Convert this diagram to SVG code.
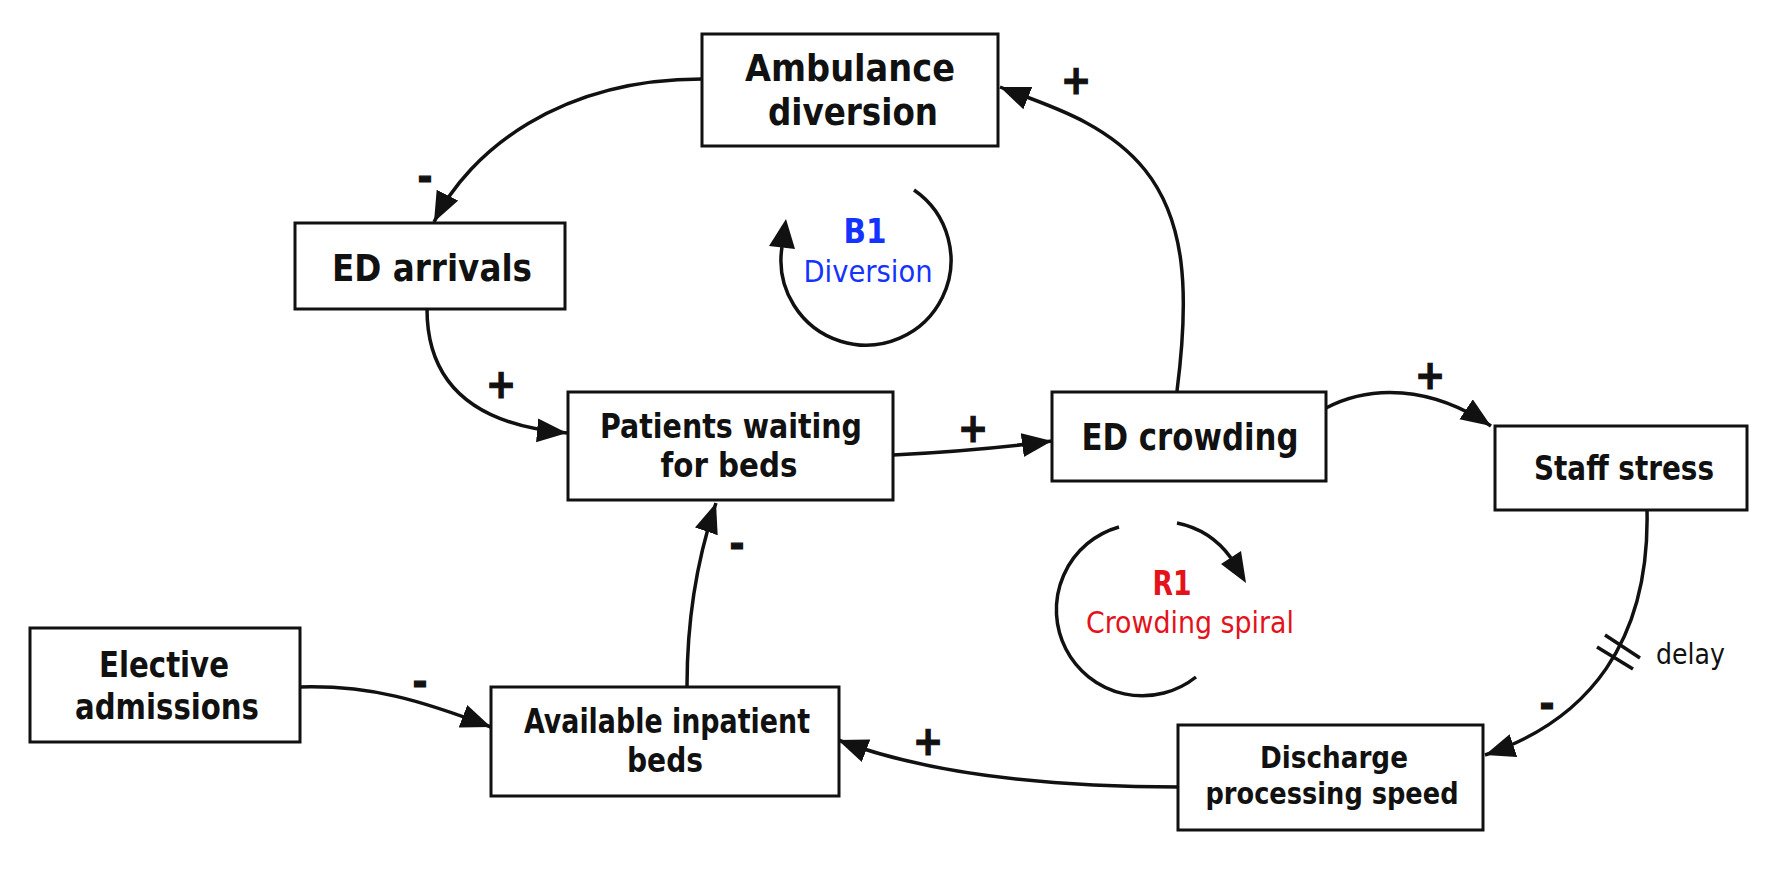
<svg xmlns="http://www.w3.org/2000/svg" width="1774" height="887" viewBox="0 0 1774 887">
<style>
  .box { fill: #ffffff; stroke: #111111; stroke-width: 3; }
  .lbl { font-family: 'DejaVu Sans Condensed', 'DejaVu Sans', sans-serif; font-stretch: condensed; font-weight: bold; fill: #111111; text-anchor: middle; }
  .edge { fill: none; stroke: #111111; stroke-width: 3.5; }
  .loop { fill: none; stroke: #111111; stroke-width: 3.5; }
  .head { fill: #111111; }
  .sign { font-family: 'DejaVu Sans Condensed', 'DejaVu Sans', sans-serif; font-stretch: condensed; font-weight: bold; font-size: 40px; fill: #111111; stroke: #111111; stroke-width: 1.2; text-anchor: middle; dominant-baseline: central; }
  .b1 { font-family: 'DejaVu Sans Condensed', 'DejaVu Sans', sans-serif; font-stretch: condensed; fill: #1533ff; text-anchor: middle; }
  .r1 { font-family: 'DejaVu Sans Condensed', 'DejaVu Sans', sans-serif; font-stretch: condensed; fill: #e3121b; text-anchor: middle; }
  .note { font-family: 'DejaVu Sans Condensed', 'DejaVu Sans', sans-serif; font-stretch: condensed; font-size: 28px; fill: #111111; }
</style>
<defs>
  <marker id="arr" markerUnits="userSpaceOnUse" markerWidth="32" markerHeight="26" refX="30" refY="12" orient="auto">
    <path d="M0,0 L30,12 L0,24 z" fill="#111111"/>
  </marker>
</defs>
<rect width="1774" height="887" fill="#ffffff"/>

<g id="connectors">
  <path class="edge" d="M702,79 C560,79 470,150 434,222" marker-end="url(#arr)"/>
  <path class="edge" d="M1177,391 C1190,290 1185,220 1145,170 S1040,103 1000,87" marker-end="url(#arr)"/>
  <path class="edge" d="M427,309 C427,385 475,425 567,433" marker-end="url(#arr)"/>
  <path class="edge" d="M893,455 C950,452 1000,448 1052,441" marker-end="url(#arr)"/>
  <path class="edge" d="M1326,408 C1370,385 1430,385 1491,426" marker-end="url(#arr)"/>
  <path class="edge" d="M1647,510 C1650,640 1590,720 1485,755" marker-end="url(#arr)"/>
  <path class="edge" d="M1179,787 C1050,787 930,775 838,740" marker-end="url(#arr)"/>
  <path class="edge" d="M300,687 C370,685 420,700 491,727" marker-end="url(#arr)"/>
  <path class="edge" d="M687,686 C687,610 700,550 716,503" marker-end="url(#arr)"/>
  <line class="edge" x1="1605" y1="635" x2="1640" y2="658"/>
  <line class="edge" x1="1597" y1="647" x2="1633" y2="669"/>
  <text class="note" x="1656" y="664">delay</text>
  <text class="sign" x="425" y="177">-</text>
  <text class="sign" x="501" y="384">+</text>
  <text class="sign" x="973" y="428">+</text>
  <text class="sign" x="1076" y="80">+</text>
  <text class="sign" x="1430" y="375">+</text>
  <text class="sign" x="737" y="544">-</text>
  <text class="sign" x="420" y="682">-</text>
  <text class="sign" x="928" y="741">+</text>
  <text class="sign" x="1547" y="704">-</text>
</g>

<g id="loop-b1">
  <path class="loop" d="M914,190 A85,85 0 1 1 782,247"/>
  <polygon class="head" points="786,219 769,246 795,249"/>
  <text class="b1" x="865" y="243" font-size="33" font-weight="bold" textLength="43" lengthAdjust="spacingAndGlyphs">B1</text>
  <text class="b1" x="868" y="282" font-size="30" textLength="129" lengthAdjust="spacingAndGlyphs">Diversion</text>
</g>

<g id="loop-r1">
  <path class="loop" d="M1196,677 A86,86 0 1 1 1119,527"/>
  <path class="loop" d="M1177,523 A88,88 0 0 1 1231,558"/>
  <polygon class="head" points="1246,583 1221,564 1241,551"/>
  <text class="r1" x="1172" y="595" font-size="34" font-weight="bold" textLength="39" lengthAdjust="spacingAndGlyphs">R1</text>
  <text class="r1" x="1190" y="633" font-size="30" textLength="208" lengthAdjust="spacingAndGlyphs">Crowding spiral</text>
</g>

<g id="node-ambulance">
  <rect class="box" x="702" y="34" width="296" height="112"/>
  <text class="lbl" x="850" y="81" font-size="38" textLength="210" lengthAdjust="spacingAndGlyphs">Ambulance</text>
  <text class="lbl" x="853" y="125" font-size="38" textLength="170" lengthAdjust="spacingAndGlyphs">diversion</text>
</g>
<g id="node-ed-arrivals">
  <rect class="box" x="295" y="223" width="270" height="86"/>
  <text class="lbl" x="432" y="281" font-size="38" textLength="200" lengthAdjust="spacingAndGlyphs">ED arrivals</text>
</g>
<g id="node-patients">
  <rect class="box" x="568" y="392" width="325" height="108"/>
  <text class="lbl" x="731" y="438" font-size="33" textLength="262" lengthAdjust="spacingAndGlyphs">Patients waiting</text>
  <text class="lbl" x="729" y="477" font-size="33" textLength="137" lengthAdjust="spacingAndGlyphs">for beds</text>
</g>
<g id="node-ed-crowding">
  <rect class="box" x="1052" y="392" width="274" height="89"/>
  <text class="lbl" x="1190" y="450" font-size="38" textLength="217" lengthAdjust="spacingAndGlyphs">ED crowding</text>
</g>
<g id="node-staff-stress">
  <rect class="box" x="1495" y="426" width="252" height="84"/>
  <text class="lbl" x="1624" y="480" font-size="34" textLength="180" lengthAdjust="spacingAndGlyphs">Staff stress</text>
</g>
<g id="node-elective">
  <rect class="box" x="30" y="628" width="270" height="114"/>
  <text class="lbl" x="164" y="677" font-size="35" textLength="130" lengthAdjust="spacingAndGlyphs">Elective</text>
  <text class="lbl" x="167" y="719" font-size="35" textLength="184" lengthAdjust="spacingAndGlyphs">admissions</text>
</g>
<g id="node-available">
  <rect class="box" x="491" y="687" width="348" height="109"/>
  <text class="lbl" x="667" y="733" font-size="33" textLength="286" lengthAdjust="spacingAndGlyphs">Available inpatient</text>
  <text class="lbl" x="665" y="772" font-size="33" textLength="76" lengthAdjust="spacingAndGlyphs">beds</text>
</g>
<g id="node-discharge">
  <rect class="box" x="1178" y="725" width="305" height="105"/>
  <text class="lbl" x="1334" y="768" font-size="30" textLength="148" lengthAdjust="spacingAndGlyphs">Discharge</text>
  <text class="lbl" x="1332" y="804" font-size="30" textLength="253" lengthAdjust="spacingAndGlyphs">processing speed</text>
</g>
</svg>
